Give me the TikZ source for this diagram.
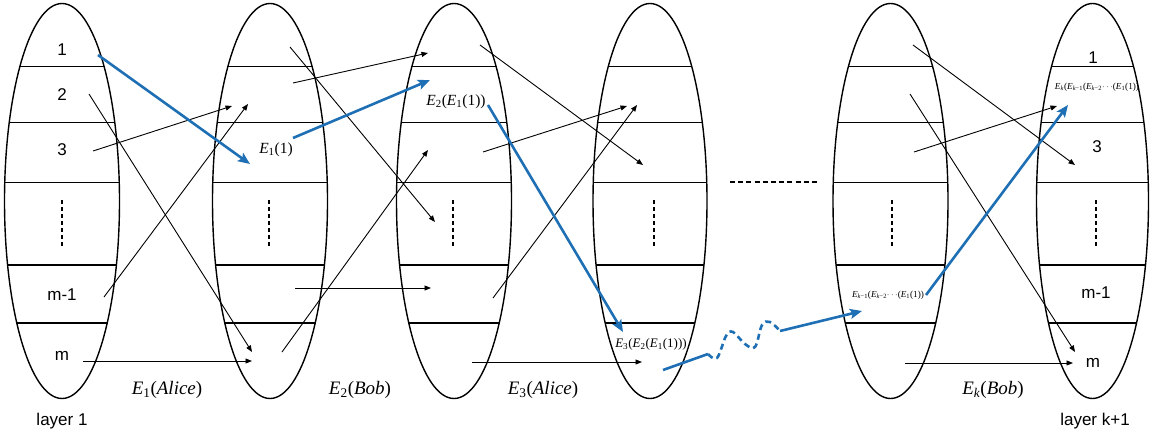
\documentclass[tikz,border=0pt]{standalone}
\usepackage{fontspec}
\setmainfont{Liberation Serif}
\newfontfamily\sansf{Liberation Sans}
\usetikzlibrary{arrows.meta,shapes.geometric}
\definecolor{kblue}{RGB}{31,111,180}
\newcommand\Ee[1]{\textit{E}\textsubscript{#1}}
\begin{document}
\begin{tikzpicture}[x=1pt,y=-1pt,
  layer/.style={draw,ellipse,line width=1.4pt,minimum height=395pt,inner sep=0pt},
  divider/.style={line width=1.4pt},
  vdots/.style={line width=1.3pt,dash pattern=on 4pt off 3pt},
  arr/.style={line width=0.9pt,-{Triangle[length=6.5pt,width=5pt]}},
  barr/.style={line width=2.6pt,kblue,-{Stealth[length=12pt,width=10pt,inset=2.5pt]}},
  bline/.style={line width=2.6pt,kblue},
  num/.style={font=\sansf\fontsize{17}{20}\selectfont,inner sep=0pt},
  lab/.style={font=\fontsize{19}{22}\selectfont,inner sep=0pt},
  elab/.style={font=\fontsize{15.5}{18}\selectfont,inner sep=0pt},
  slab/.style={font=\fontsize{13}{15}\selectfont,inner sep=0pt},
  tlab/.style={font=\fontsize{9.2}{11}\selectfont,inner sep=0pt}]
\useasboundingbox (0,0) rectangle (1156,436);

% layers (ellipses with dividers)
\foreach \n/\cx/\w in {L1/62/115, L2/270/115, L3/454/115, L4/650/114, L5/890.5/115, L6/1092.5/112}{
  \node[layer,minimum width=\w pt] (\n) at (\cx,201) {};
  \begin{scope}
    \clip (\cx,201) ellipse [x radius=\w pt/2, y radius=197.5pt];
    \foreach \yy in {66.5,122.5,182.5,265,323}
      \draw[divider] (\cx-70,\yy) -- (\cx+70,\yy);
  \end{scope}
}
% vertical dots
\foreach \xx in {62,269,453,654,892,1096}
  \draw[vdots] (\xx,200) -- (\xx,247);
% horizontal dots between layers
\coordinate (hd1) at (730,182);
\coordinate (hd2) at (820,182);
\draw[line width=1.8pt,dash pattern=on 5pt off 3.2pt] (hd1) -- (hd2);

% labels of layer 1
\node[num] (n1) at (62,50) {1};
\node[num] (n2) at (62,95) {2};
\node[num] (n3) at (62,150) {3};
\node[num] (nm1) at (62,295) {m-1};
\node[num] (nm) at (62,356) {m};
\node[num] (lay1) at (62,421) {layer 1};
% labels of layer k+1
\node[num] (k1) at (1093,58) {1};
\node[tlab] (ekl) at (1097,87) {\Ee{\textit{k}}(\Ee{\textit{k}−1}(\Ee{\textit{k}−2}$\cdots$(\Ee{1}(1))};
\node[num] (k3) at (1097,147) {3};
\node[num] (km1) at (1096,293) {m-1};
\node[num] (km) at (1093,363) {m};
\node[num] (layk) at (1095,421) {layer k+1};

% encryption labels
\node[lab] (e1) at (167,390) {\Ee{1}(\textit{Alice})};
\node[lab] (e2) at (360,390) {\Ee{2}(\textit{Bob})};
\node[lab] (e3) at (543,390) {\Ee{3}(\textit{Alice})};
\node[lab] (ek) at (993,390) {\Ee{\textit{k}}(\textit{Bob})};

% inner labels
\node[elab] (l21) at (276,150) {\Ee{1}(1)};
\node[elab] (l321) at (456,102) {\Ee{2}(\Ee{1}(1))};
\node[slab] (l4321) at (651,344) {\Ee{3}(\Ee{2}(\Ee{1}(1)))};
\node[tlab] (l5) at (888,295) {\Ee{\textit{k}−1}(\Ee{\textit{k}−2}$\cdots$(\Ee{1}(1))};

% arrow end points
\coordinate (a1) at (98,55);   \coordinate (b1) at (250,164);
\coordinate (a2) at (89,94);   \coordinate (b2) at (252,352);
\coordinate (a3) at (93,151);  \coordinate (b3) at (232,106);
\coordinate (a4) at (104,297); \coordinate (b4) at (248,104);
\coordinate (a5) at (83,361);  \coordinate (b5) at (252,361);

\coordinate (c1) at (293,138); \coordinate (d1) at (430,80);
\coordinate (c2) at (290,47);  \coordinate (d2) at (435,222);
\coordinate (c3) at (293,83);  \coordinate (d3) at (428,53);
\coordinate (c4) at (282,352); \coordinate (d4) at (428,150);
\coordinate (c5) at (295,288); \coordinate (d5) at (431,288);

\coordinate (f1) at (488,105); \coordinate (g1) at (623,332);
\coordinate (f2) at (480,45);  \coordinate (g2) at (643,165);
\coordinate (f3) at (483,152); \coordinate (g3) at (627,106);
\coordinate (f4) at (493,298); \coordinate (g4) at (637,105);
\coordinate (f5) at (472,362); \coordinate (g5) at (642,362);

\coordinate (p1) at (926,295); \coordinate (q1) at (1068,105);
\coordinate (p2) at (913,45);  \coordinate (q2) at (1075,165);
\coordinate (p3) at (910,94);  \coordinate (q3) at (1075,352);
\coordinate (p4) at (914,152); \coordinate (q4) at (1057,106);
\coordinate (p5) at (905,363); \coordinate (q5) at (1073,363);

% black arrows
\foreach \s/\t in {a2/b2,a3/b3,a4/b4,a5/b5,c2/d2,c3/d3,c4/d4,c5/d5,f2/g2,f3/g3,f4/g4,f5/g5,p2/q2,p3/q3,p4/q4,p5/q5}
  \draw[arr] (\s) -- (\t);
% blue arrows
\foreach \s/\t in {a1/b1,c1/d1,f1/g1,p1/q1}
  \draw[barr] (\s) -- (\t);

% wavy blue connection
\coordinate (w0) at (663,370);
\coordinate (w1) at (708,354);
\coordinate (w9) at (780,331);
\coordinate (wend) at (862,311);
\draw[bline] (w0) -- (w1);
\draw[bline,dash pattern=on 6pt off 4pt] plot[smooth,tension=0.6] coordinates
  {(w1) (717,358) (726,336) (733,332) (745,344) (755,347) (762,325) (770,322) (w9)};
\draw[barr] (w9) -- (wend);
\end{tikzpicture}
\end{document}
